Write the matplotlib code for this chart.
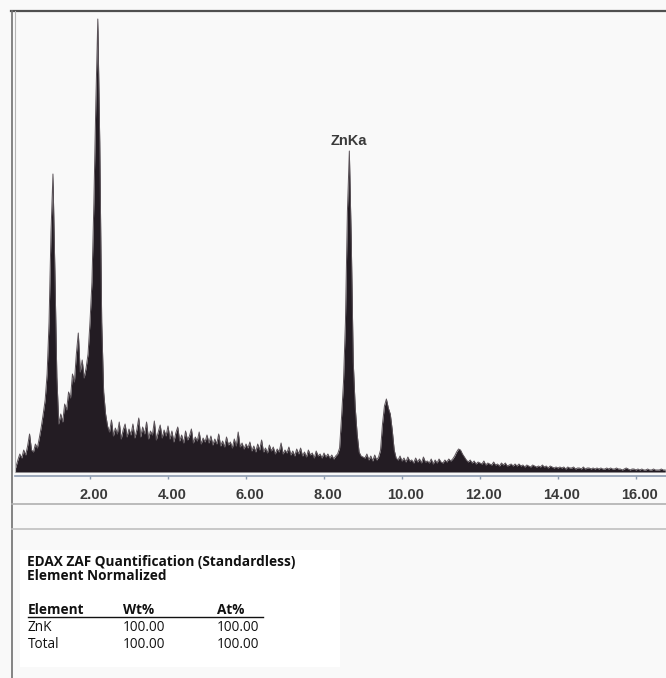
import numpy as np
import matplotlib.pyplot as plt
from matplotlib.transforms import ScaledTranslation
from matplotlib.lines import Line2D
from matplotlib.patches import Rectangle

W, H = 666, 678   # output size in px (dpi 100)

# EDS spectrum, one value per 0.05 keV channel starting at 0.05 keV
# (heights, arbitrary units)
counts = [
    0, 5, 12, 18, 14, 22, 17, 26, 38, 22, 20, 28, 24, 34, 45, 58, 72, 98, 150, 240,         # 0.05-1.00
    298, 200, 95, 48, 58, 50, 68, 62, 80, 74, 98, 90, 118, 139, 100, 112, 94, 104, 118, 150,  # 1.05-2.00
    190, 270, 370, 453, 330, 150, 80, 58, 46, 40, 52, 36, 44, 38, 50, 33, 42, 48, 35, 43,   # 2.05-3.00
    37, 48, 34, 42, 54, 35, 45, 38, 50, 33, 41, 37, 51, 32, 40, 47, 34, 42, 36, 46,         # 3.05-4.00
    33, 41, 30, 39, 45, 31, 37, 29, 41, 32, 36, 43, 29, 35, 31, 40, 28, 34, 30, 37,         # 4.05-5.00
    29, 36, 27, 33, 28, 38, 26, 31, 25, 35, 27, 30, 24, 33, 26, 40, 25, 29, 23, 28,         # 5.05-6.00
    24, 30, 21, 26, 20, 28, 22, 32, 20, 24, 19, 27, 21, 25, 18, 23, 20, 29, 18, 22,         # 6.05-7.00
    19, 25, 17, 21, 16, 23, 18, 24, 16, 20, 15, 22, 17, 19, 14, 21, 16, 18, 14, 19,         # 7.05-8.00
    15, 18, 14, 17, 13, 16, 18, 24, 55, 90, 150, 260, 321, 230, 110, 65, 38, 20, 16, 15,    # 8.05-9.00
    14, 18, 12, 16, 11, 17, 12, 15, 22, 48, 66, 73, 64, 58, 42, 22, 14, 12, 16, 11,         # 9.05-10.00
    14, 10, 15, 11, 12, 9, 14, 10, 13, 9, 15, 10, 11, 9, 13, 8, 12, 9, 13, 10,             # 10.05-11.00
    9, 12, 10, 13, 11, 13, 16, 20, 23, 22, 18, 15, 12, 10, 12, 9, 11, 8, 10, 9,             # 11.05-12.00
    8, 11, 7, 9, 8, 7, 10, 7, 8, 6, 9, 7, 9, 6, 7, 8, 6, 8, 6, 8,                           # 12.05-13.00
    6, 7, 5, 7, 6, 5, 7, 6, 5, 6, 5, 7, 5, 6, 4, 6, 5, 4, 5, 4,                             # 13.05-14.00
    5, 4, 5, 3, 5, 4, 4, 5, 3, 4, 4, 3, 5, 3, 4, 4, 3, 4, 3, 4,                             # 14.05-15.00
    3, 4, 3, 3, 4, 3, 4, 3, 3, 4, 3, 3, 2, 3, 4, 3, 2, 3, 3, 2,                             # 15.05-16.00
    3, 2, 3, 2, 2, 3, 2, 2, 3, 2, 2, 2, 3, 2, 2,                                            # 16.05-16.75
]
energy = 0.05 * (np.arange(len(counts)) + 1)

tick_keV = [2, 4, 6, 8, 10, 12, 14, 16]
tick_labels = ['2.00', '4.00', '6.00', '8.00', '10.00', '12.00', '14.00', '16.00']

peak_label = 'ZnKa'
peak_keV = 8.65
peak_height = 321

title_lines = ['EDAX ZAF Quantification (Standardless)', 'Element Normalized']
table_cols = ['Element', 'Wt%', 'At%']
table_rows = [['ZnK', '100.00', '100.00'],
              ['Total', '100.00', '100.00']]


def fx(x):
    return x / W


def fy(y):
    return 1 - y / H


bg = '#f9f9f9'
fig = plt.figure(figsize=(W / 100, H / 100), dpi=100, facecolor=bg)

# spectrum axes
ax = fig.add_axes([fx(15), fy(476), (W - 15) / W, (476 - 11) / H])
ax.set_facecolor(bg)
ax.fill_between(energy, counts, 0, color='#231c23', lw=0)
ax.plot(energy, counts, color='#5a5258', lw=0.7)
ax.set_xlim(0.077, 16.77)
ax.set_ylim(-4, 461)

for s in ['top', 'left', 'right']:
    ax.spines[s].set_visible(False)
ax.spines['bottom'].set_color('#8c9bb0')
ax.spines['bottom'].set_linewidth(1.2)
ax.set_yticks([])
ax.set_xticks(tick_keV)
ax.set_xticklabels(tick_labels, fontfamily='Liberation Sans', fontweight='bold',
                   fontsize=10.5, color='#3a3a3a')
ax.tick_params(axis='x', direction='out', length=2.5, width=1, color='#8c9bb0', pad=6)
shift = ScaledTranslation(4 / 100, 0, fig.dpi_scale_trans)
for lbl in ax.get_xticklabels():
    lbl.set_transform(lbl.get_transform() + shift)

ax.text(peak_keV, peak_height + 6, peak_label, ha='center', va='baseline',
        fontfamily='Liberation Sans', fontweight='bold', fontsize=10.5, color='#3a3a3a')

# frame lines round the panels
frame = [
    ((11, 666), (11, 11), '#505050', 1.6),
    ((11.5, 11.5), (11, 678), '#707070', 1.2),
    ((15, 15), (11, 472), '#b5b5b5', 0.8),
    ((12, 666), (504, 504), '#b0b0b0', 1.2),
    ((12, 666), (529, 529), '#c0c0c0', 1.2),
]
for xs, ys, c, lw in frame:
    fig.add_artist(Line2D([fx(x) for x in xs], [fy(y) for y in ys], color=c, lw=lw))

# quantification table
fig.add_artist(Rectangle((fx(20), fy(667)), fx(320), 117 / H, color='white', lw=0))
tfont = dict(fontfamily='Open Sans', fontsize=9.8, color='#111111')
fig.text(fx(27), fy(562), title_lines[0], va='center', fontweight='bold', **tfont)
fig.text(fx(27), fy(576), title_lines[1], va='center', fontweight='bold', **tfont)
col_x = [27.5, 123, 217]
for cx, name in zip(col_x, table_cols):
    fig.text(fx(cx), fy(610), name, va='center', fontweight='bold', **tfont)
fig.add_artist(Line2D([fx(27.5), fx(263)], [fy(617), fy(617)], color='#111111', lw=1))
for r, row in enumerate(table_rows):
    for cx, val in zip(col_x, row):
        fig.text(fx(cx), fy(627.5 + 17 * r), val, va='center', **tfont)

fig.savefig('out.png', dpi=100, facecolor=bg)
